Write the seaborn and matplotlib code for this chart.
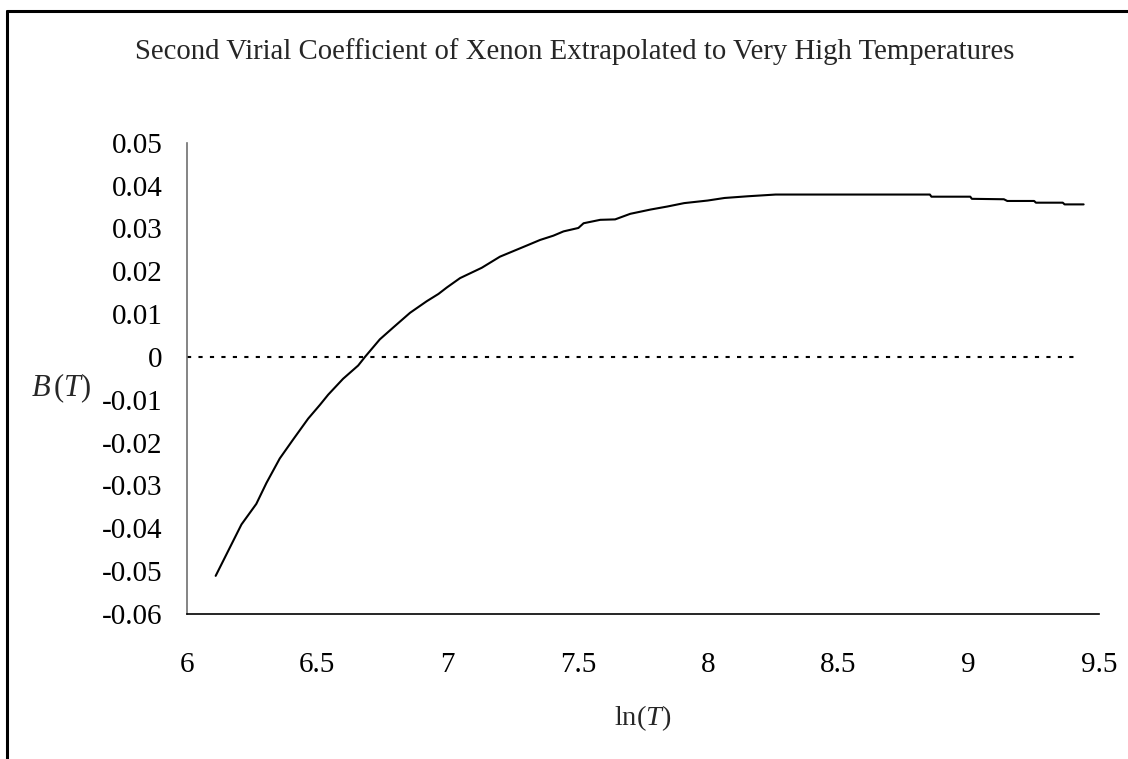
import seaborn as sns
import matplotlib.pyplot as plt
import pandas as pd
from matplotlib.lines import Line2D

# values
ln_t = [6.110, 6.209, 6.266, 6.305, 6.356, 6.407, 6.465, 6.510, 6.542, 6.599,
        6.657, 6.683, 6.740, 6.792, 6.856, 6.920, 6.965, 6.997, 7.048, 7.131,
        7.201, 7.304, 7.355, 7.406, 7.445, 7.502, 7.522, 7.586, 7.643, 7.701,
        7.779, 7.843, 7.908, 7.998, 8.063, 8.153, 8.259, 8.851, 8.857, 9.006,
        9.012, 9.135, 9.148, 9.251, 9.258, 9.361, 9.368, 9.441]
b_t = [-0.0511, -0.0391, -0.0343, -0.0294, -0.0237, -0.0193, -0.0144, -0.0112,
       -0.0088, -0.0051, -0.0020, 0.0000, 0.0041, 0.0069, 0.0103, 0.0130,
       0.0147, 0.0162, 0.0184, 0.0208, 0.0234, 0.0260, 0.0273, 0.0283,
       0.0293, 0.0301, 0.0312, 0.0320, 0.0321, 0.0334, 0.0344, 0.0351,
       0.0359, 0.0365, 0.0371, 0.0375, 0.0379, 0.0379, 0.0374, 0.0374,
       0.0369, 0.0368, 0.0364, 0.0364, 0.0360, 0.0360, 0.0356, 0.0356]
zero_x = [6.0, 9.41]
zero_y = [0.0, 0.0]
x_ticks = [6, 6.5, 7, 7.5, 8, 8.5, 9, 9.5]
y_ticks = [0.05, 0.04, 0.03, 0.02, 0.01, 0, -0.01, -0.02, -0.03, -0.04, -0.05, -0.06]
y_labels = ["0.05", "0.04", "0.03", "0.02", "0.01", "0", "-0.01", "-0.02",
            "-0.03", "-0.04", "-0.05", "-0.06"]
x_labels = ["6", "6.5", "7", "7.5", "8", "8.5", "9", "9.5"]

df = pd.DataFrame({"lnT": ln_t, "B": b_t})

sns.set_style("white")
plt.rcParams["font.family"] = ["Liberation Serif", "DejaVu Serif"]
plt.rcParams["mathtext.fontset"] = "custom"
plt.rcParams["mathtext.rm"] = "Liberation Serif"
plt.rcParams["mathtext.it"] = "Liberation Serif:italic"

fig = plt.figure(figsize=(11.28, 7.59), dpi=100)
ax = fig.add_axes([187 / 1128, 145 / 759, 912 / 1128, 471.3 / 759])

sns.lineplot(data=df, x="lnT", y="B", ax=ax, color="black", linewidth=1.5,
             sort=False, estimator=None)
ax.plot(zero_x, zero_y, color="black", linewidth=1.5, dashes=(2, 3.5))

ax.set_xlim(6, 9.5)
ax.set_ylim(-0.06, 0.05)
ax.set_xticks(x_ticks)
ax.set_xticklabels(x_labels)
ax.set_yticks(y_ticks)
ax.set_yticklabels(y_labels)
ax.tick_params(axis="both", direction="out", length=6.5, width=1,
               labelsize=21, colors="black")
ax.tick_params(axis="y", pad=11, color="#707070")
ax.tick_params(axis="x", pad=21, color="#707070")

for side in ["top", "right"]:
    ax.spines[side].set_visible(False)
ax.spines["left"].set_color("#707070")
ax.spines["left"].set_linewidth(1.2)
ax.spines["bottom"].set_color("black")
ax.spines["bottom"].set_linewidth(1.2)

ax.set_xlabel(r"ln($T$)", fontsize=20.5, va="center")
ax.xaxis.set_label_coords(0.5, -104 / 471.3)
ax.set_ylabel(r"$B\,(T)$", fontsize=22, rotation=0, ha="center", va="center")
ax.yaxis.set_label_coords(-126 / 912, 226 / 471.3)

fig.text(575 / 1128, 1 - 52 / 759,
         "Second Virial Coefficient of Xenon Extrapolated to Very High Temperatures",
         ha="center", va="center", fontsize=20.7)

# outer chart frame (left and top edges visible)
fig.add_artist(Line2D([7 / 1128, 7 / 1128], [0, 1 - 11 / 759],
                      transform=fig.transFigure, color="black", linewidth=2.2))
fig.add_artist(Line2D([7 / 1128, 1], [1 - 11 / 759, 1 - 11 / 759],
                      transform=fig.transFigure, color="black", linewidth=2.2))

fig.savefig("out.png", dpi=100)
